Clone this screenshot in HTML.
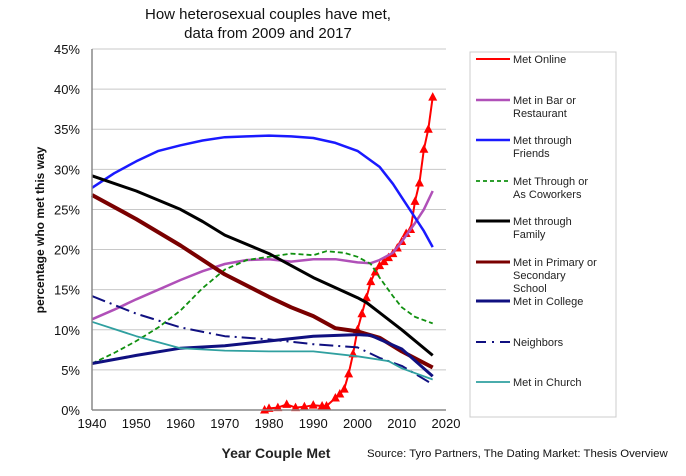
<!DOCTYPE html>
<html><head><meta charset="utf-8"><style>
body{margin:0;background:#fff;width:686px;height:471px;overflow:hidden;font-family:"Liberation Sans",sans-serif}
svg text{font-family:"Liberation Sans",sans-serif}
</style></head><body>
<svg id="chart" width="686" height="471" xmlns="http://www.w3.org/2000/svg">
<g id="grid"></g><g id="series"></g><g id="axes"></g><g id="legend"></g>
<text x="268" y="19" text-anchor="middle" font-size="15" fill="#111">How heterosexual couples have met,</text>
<text x="268" y="38" text-anchor="middle" font-size="15" fill="#111">data from 2009 and 2017</text>
<text transform="translate(44,230) rotate(-90)" text-anchor="middle" font-size="12" font-weight="bold" fill="#111">percentage who met this way</text>
<text x="276" y="458" text-anchor="middle" font-size="14" font-weight="bold" fill="#222">Year Couple Met</text>
<text x="367" y="457" font-size="11.4" fill="#111">Source: Tyro Partners, The Dating Market: Thesis Overview</text>
</svg>
<script>
const xTicks=[1940,1950,1960,1970,1980,1990,2000,2010,2020];
const yTicks=[0,5,10,15,20,25,30,35,40,45];
const onlineYears=[1979,1980,1982,1984,1986,1988,1990,1992,1993,1995,1996,1997,1998,1999,2000,2001,2002,2003,2004,2005,2006,2007,2008,2009,2010,2011,2012,2013,2014,2015,2016,2017];
const onlineVals=[0,0.2,0.3,0.7,0.3,0.4,0.6,0.5,0.5,1.5,2,2.6,4.5,7,10,12,14,16,17.2,18,18.5,19,19.5,20.2,21,22,22.5,26,28.3,32.5,35,39];
const barYears=[1940,1945,1950,1955,1960,1965,1970,1975,1980,1985,1990,1995,2000,2003,2005,2008,2010,2013,2015,2017];
const barVals=[11.3,12.5,13.8,15,16.2,17.3,18.2,18.7,18.8,18.5,18.8,18.8,18.4,18.3,18.7,19.6,21,23.3,25,27.3];
const friendsYears=[1940,1945,1950,1955,1960,1965,1970,1975,1980,1985,1990,1995,2000,2005,2008,2010,2013,2015,2017];
const friendsVals=[27.7,29.5,31,32.3,33,33.6,34,34.1,34.2,34.1,33.9,33.3,32.3,30.3,28.2,26.5,24,22.3,20.3];
const coworkYears=[1940,1945,1950,1955,1960,1965,1970,1975,1980,1985,1990,1993,1997,2000,2003,2005,2008,2010,2013,2017];
const coworkVals=[5.8,7.1,8.6,10.3,12.4,15.2,17.5,18.7,19.1,19.5,19.3,19.8,19.6,19.1,18.2,16.5,14.2,12.8,11.6,10.8];
const familyYears=[1940,1950,1960,1965,1970,1980,1990,2000,2002,2010,2017];
const familyVals=[29.2,27.3,25,23.5,21.8,19.5,16.5,14,13.4,10,6.8];
const schoolYears=[1940,1950,1960,1970,1980,1985,1990,1995,2000,2005,2010,2017];
const schoolVals=[26.8,23.8,20.5,16.9,14.1,12.8,11.7,10.2,9.8,9,7.3,5.3];
const collegeYears=[1940,1950,1960,1970,1980,1990,2000,2003,2010,2017];
const collegeVals=[5.8,6.8,7.7,8,8.6,9.2,9.4,9.3,7.6,4.2];
const neighYears=[1940,1950,1960,1970,1980,1990,2000,2005,2010,2017];
const neighVals=[14.2,12,10.3,9.2,8.8,8.2,7.8,6.5,5.5,3.2];
const churchYears=[1940,1950,1960,1970,1980,1990,2000,2007,2010,2017];
const churchVals=[11,9.2,7.7,7.4,7.3,7.3,6.7,6.1,5.2,3.8];

const NS="http://www.w3.org/2000/svg";
const X0=92,X1=446,Y0=410,Y1=49;
function xs(v){return X0+(v-1940)/80*(X1-X0);}
function ys(v){return Y0-v/45*(Y0-Y1);}
function mk(tag,attrs,parent){const e=document.createElementNS(NS,tag);for(const k in attrs)e.setAttribute(k,attrs[k]);parent.appendChild(e);return e;}
const grid=document.getElementById('grid'),axes=document.getElementById('axes'),ser=document.getElementById('series'),leg=document.getElementById('legend');
yTicks.forEach(t=>{
  const l=mk('line',{x1:X0,x2:X1,y1:ys(t),y2:ys(t),stroke:'#c8c8c8','stroke-width':1},grid);
  
  
  const tx=mk('text',{x:X0-12,y:ys(t)+5,'text-anchor':'end','font-size':13,fill:'#111'},axes);
  tx.textContent=t+'%';
  
  
});
xTicks.forEach(t=>{
  const tx=mk('text',{x:xs(t),y:Y0+18,'text-anchor':'middle','font-size':13,fill:'#111'},axes);
  tx.textContent=t;
  
  
});
const ya=mk('line',{x1:X0,x2:X0,y1:Y1,y2:Y0,stroke:'#888','stroke-width':1.5},axes);


const xa=mk('line',{x1:X0,x2:X1,y1:Y0,y2:Y0,stroke:'#888','stroke-width':1.5},axes);



const series=[
 {n:'met-online',label:['Met Online'],yrs:onlineYears,v:onlineVals,c:'#ff0000',w:2,m:'tri'},
 {n:'met-in-bar',label:['Met in Bar or','Restaurant'],yrs:barYears,v:barVals,c:'#b050b8',w:2.5,m:'x'},
 {n:'met-through-friends',label:['Met through','Friends'],yrs:friendsYears,v:friendsVals,c:'#1a1aff',w:2.5,m:'dia'},
 {n:'met-coworkers',label:['Met Through or','As Coworkers'],yrs:coworkYears,v:coworkVals,c:'#109010',w:1.8,d:'5,3'},
 {n:'met-through-family',label:['Met through','Family'],yrs:familyYears,v:familyVals,c:'#000',w:3},
 {n:'met-in-school',label:['Met in Primary or','Secondary','School'],yrs:schoolYears,v:schoolVals,c:'#7a0000',w:4},
 {n:'met-in-college',label:['Met in College'],yrs:collegeYears,v:collegeVals,c:'#101080',w:3},
 {n:'neighbors',label:['Neighbors'],yrs:neighYears,v:neighVals,c:'#101080',w:2,d:'14,5,2,5'},
 {n:'met-in-church',label:['Met in Church'],yrs:churchYears,v:churchVals,c:'#30a0a0',w:1.8},
];
const legY=[59,100,140,181,221,262,301,342,382];
const lb=mk('rect',{x:470,y:52,width:146,height:365,fill:'#fff',stroke:'#ccc'},leg);


series.forEach((s,i)=>{
  const pts=s.yrs.map((y,j)=>xs(y).toFixed(1)+','+ys(s.v[j]).toFixed(1)).join(' ');
  const pl=mk('polyline',{points:pts,fill:'none',stroke:s.c,'stroke-width':s.w,'stroke-linejoin':'round'},ser);
  if(s.d)pl.setAttribute('stroke-dasharray',s.d);
  
  
  if(s.m==='tri'){
    s.yrs.forEach((y,j)=>{const cx=xs(y),cy=ys(s.v[j]);
      const p=mk('polygon',{points:`${cx},${cy-5} ${cx-4.5},${cy+3.5} ${cx+4.5},${cy+3.5}`,fill:s.c},ser);
      
      });
  }
  const ly=legY[i];
  const ll=mk('line',{x1:476,x2:510,y1:ly,y2:ly,stroke:s.c,'stroke-width':Math.min(s.w,3)},leg);
  if(s.d)ll.setAttribute('stroke-dasharray',s.d==='5,3'?'4,3':'10,6,2,6');
  
  
  const t=mk('text',{x:513,y:ly+4,'font-size':11,fill:'#222'},leg);
  s.label.forEach((ln,k)=>{const ts=mk('tspan',{x:513,dy:k?13:0},t);ts.textContent=ln;});
  
  
});
</script>
</body></html>
